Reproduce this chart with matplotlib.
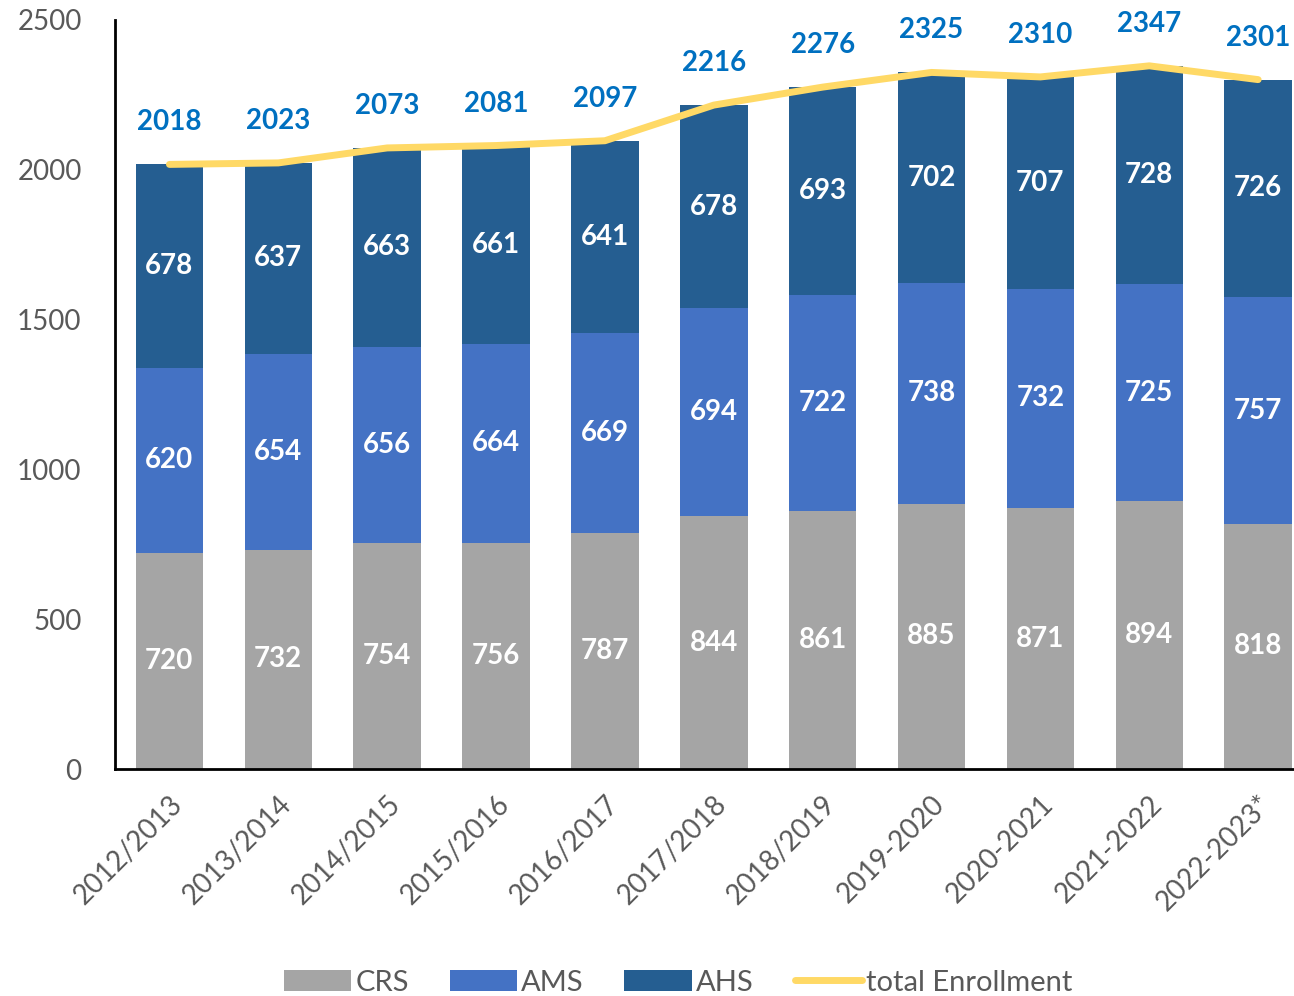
import matplotlib.pyplot as plt
import numpy as np

plt.rcParams['font.family'] = ['Lato', 'DejaVu Sans']

years = ['2012/2013', '2013/2014', '2014/2015', '2015/2016', '2016/2017',
         '2017/2018', '2018/2019', '2019-2020', '2020-2021', '2021-2022',
         '2022-2023*']
crs = [720, 732, 754, 756, 787, 844, 861, 885, 871, 894, 818]
ams = [620, 654, 656, 664, 669, 694, 722, 738, 732, 725, 757]
ahs = [678, 637, 663, 661, 641, 678, 693, 702, 707, 728, 726]
total = [2018, 2023, 2073, 2081, 2097, 2216, 2276, 2325, 2310, 2347, 2301]

c_crs = '#A5A5A5'
c_ams = '#4472C4'
c_ahs = '#255E91'
c_tot = '#FFD966'

x = np.arange(len(years))
crs_a = np.array(crs)
ams_a = np.array(ams)
ahs_a = np.array(ahs)

fig = plt.figure(figsize=(12.94, 9.96), dpi=100)
ax = fig.add_axes([115/1294, 1-769/996, (1293-115)/1294, (769-20)/996])

w = 0.62
b1 = ax.bar(x, crs_a, w, color=c_crs, label='CRS')
b2 = ax.bar(x, ams_a, w, bottom=crs_a, color=c_ams, label='AMS')
b3 = ax.bar(x, ahs_a, w, bottom=crs_a + ams_a, color=c_ahs, label='AHS')
ln, = ax.plot(x, total, color=c_tot, lw=5, solid_capstyle='round',
              label='total Enrollment', zorder=3)

lab_kw = dict(ha='center', va='center', color='white', fontsize=20,
              fontweight='bold', zorder=4)
for i in x:
    ax.text(i, crs_a[i] / 2, str(crs[i]), **lab_kw)
    ax.text(i, crs_a[i] + ams_a[i] / 2, str(ams[i]), **lab_kw)
    ax.text(i, crs_a[i] + ams_a[i] + ahs_a[i] / 2, str(ahs[i]), **lab_kw)
    ax.text(i, total[i] + 140, str(total[i]), ha='center', va='center',
            color='#0070C0', fontsize=20, fontweight='bold', zorder=4)

ax.set_xlim(-0.5, 10.32)
ax.set_ylim(0, 2500)
ax.set_yticks([0, 500, 1000, 1500, 2000, 2500])
ax.set_xticks(x)
ax.set_xticklabels(years, rotation=45, ha='right', rotation_mode='anchor')
ax.tick_params(axis='both', length=0, labelsize=20, labelcolor='#595959')
ax.tick_params(axis='y', pad=24)
ax.tick_params(axis='x', pad=16)

for s in ['top', 'right']:
    ax.spines[s].set_visible(False)
for s in ['left', 'bottom']:
    ax.spines[s].set_linewidth(2)
    ax.spines[s].set_color('black')

leg = fig.legend(handles=[b1, b2, b3, ln], loc='lower center',
                 bbox_to_anchor=(0.524, -0.026), ncol=4, frameon=False,
                 fontsize=21, handlelength=2.3, handleheight=0.7,
                 columnspacing=1.4, handletextpad=0.15, labelcolor='#595959')

fig.savefig('out.png', dpi=100)
